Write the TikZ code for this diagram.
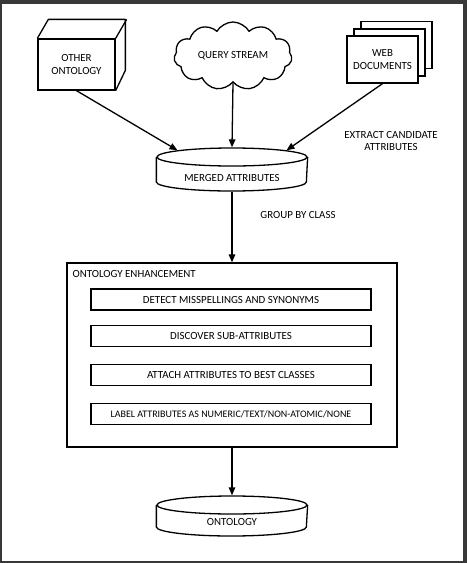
\documentclass[tikz,border=0pt]{standalone}
\usepackage{fontspec}
\setmainfont{Carlito}
\usetikzlibrary{shapes.geometric,shapes.symbols,arrows.meta}
\begin{document}
\begin{tikzpicture}[x=1pt,y=-1pt,
  line width=1.3pt,
  every node/.style={font=\fontsize{10.9}{12.5}\selectfont},
  box/.style={draw,rectangle,inner sep=0pt,align=center},
  fbox/.style={box,fill=white},
  lbl/.style={inner sep=0pt,align=center},
  arr/.style={-{Triangle[length=8pt,width=6.5pt]}},
  cyltop/.style={draw,ellipse,inner sep=0pt,minimum width=150pt,minimum height=18pt},
  ghost/.style={rectangle,inner sep=0pt,draw=none}
]
% frame
\fill[black!78] (0,0) rectangle (467,563);
\fill[white] (2,4) rectangle (463,561);
\useasboundingbox (0,0) rectangle (467,563);

% other ontology (cube)
\node[box,minimum width=77pt,minimum height=51pt] (other) at (76.5,64.5) {OTHER\\ONTOLOGY};
\draw[line join=round] (other.north west) -- ++(11,-19) -- ++(77,0) -- ++(0,51) -- (other.south east);
\draw (other.north east) -- ++(11,-19);

% query stream (cloud)
\node[draw,cloud,cloud puffs=11,cloud puff arc=120,aspect=1.9,minimum width=118pt,minimum height=68pt,inner sep=0pt] (query) at (233,56) {QUERY STREAM};

% web documents
\node[fbox,minimum width=71pt,minimum height=47pt] (web3) at (396.5,45) {};
\node[fbox,minimum width=71pt,minimum height=47pt] (web2) at (389.5,52.5) {};
\node[fbox,minimum width=71pt,minimum height=47pt] (web) at (382.5,59.5) {WEB\\DOCUMENTS};

% merged attributes (cylinder)
\node[ghost,minimum width=150pt,minimum height=43pt] (merged) at (232,169.5) {};
\draw (merged.west |- 0,157) -- ++(0,25) arc[start angle=180,end angle=0,x radius=75,y radius=9] -- (merged.east |- 0,157);
\node[cyltop,fill=white] (mergedtop) at (232,157) {};
\node[lbl] (mergedlbl) at (232,178) {MERGED ATTRIBUTES};

\node[lbl] (extract) at (391,141) {EXTRACT CANDIDATE\\ATTRIBUTES};

\draw[arr] (other.south) -- (mergedtop.173);
\draw[arr] (query.south) -- (mergedtop.north);
\draw[arr] (web.south) -- (mergedtop.7);

% ontology enhancement
\node[box,minimum width=330pt,minimum height=184pt] (enh) at (232,355) {};
\node[lbl,anchor=west] (enhlbl) at (72,274) {ONTOLOGY ENHANCEMENT};
\node[box,minimum width=280pt,minimum height=21pt] (s1) at (231,299.5) {DETECT MISSPELLINGS AND SYNONYMS};
\node[box,minimum width=280pt,minimum height=21pt] (s2) at (231,336) {DISCOVER SUB-ATTRIBUTES};
\node[box,minimum width=280pt,minimum height=21pt] (s3) at (231,375) {ATTACH ATTRIBUTES TO BEST CLASSES};
\node[box,minimum width=280pt,minimum height=21pt,font=\fontsize{10}{12}\selectfont] (s4) at (231,414) {LABEL ATTRIBUTES AS NUMERIC/TEXT/NON-ATOMIC/NONE};

\draw[arr] (merged.south) -- (enh.north);
\node[lbl] (group) at (298,215) {GROUP BY CLASS};

% ontology (cylinder)
\node[ghost,minimum width=150pt,minimum height=40pt] (onto) at (232,516) {};
\draw (onto.west |- 0,505) -- ++(0,22) arc[start angle=180,end angle=0,x radius=75,y radius=9] -- (onto.east |- 0,505);
\node[cyltop,fill=white] (ontotop) at (232,505) {};
\node[lbl] (ontolbl) at (232,522) {ONTOLOGY};

\draw[arr] (enh.south) -- (ontotop.north);
\end{tikzpicture}
\end{document}
